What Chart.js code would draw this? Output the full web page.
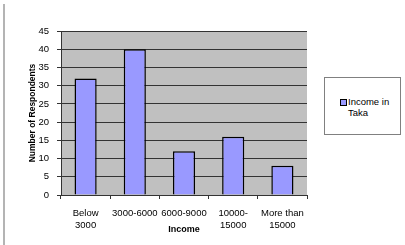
<!DOCTYPE html>
<html>
<head>
<meta charset="utf-8">
<script src="https://cdn.jsdelivr.net/npm/chart.js@4.4.0/dist/chart.umd.min.js"></script>
<style>
  html, body { margin: 0; padding: 0; background: #fff; }
  #wrap { position: relative; width: 405px; height: 245px; }
  #frame { position: absolute; left: 3px; top: 4px; width: 2px; height: 241px; background: #b4b4b4; }
  #legend {
    position: absolute; left: 324px; top: 77px; width: 75px; height: 56px;
    border: 1px solid #808080; background: #fff;
    font: 9.5px "Liberation Sans", Arial, sans-serif; color: #000;
  }
  #legend .mark {
    position: absolute; left: 15px; top: 21px; width: 5px; height: 5px;
    background: #9999ff; border: 1px solid #000;
  }
  #legend .txt { position: absolute; left: 23px; top: 18px; line-height: 11px; }
</style>
</head>
<body>
<div id="wrap">
  <canvas id="chart" width="405" height="245"></canvas>
  <div id="frame"></div>
  <div id="legend"><div class="mark"></div><div class="txt">Income in<br>Taka</div></div>
</div>
<script>
// Income groups and respondent counts
const categories = [['Below', '3000'], '3000-6000', '6000-9000', ['10000-', '15000'], ['More than', '15000']];
const respondents = [32, 40, 12, 16, 8];
const seriesName = 'Income in Taka';

// Grey plot area background
const plotBg = {
  id: 'plotBg',
  beforeDraw(chart) {
    const { ctx, chartArea: a } = chart;
    ctx.save();
    ctx.fillStyle = '#c0c0c0';
    ctx.fillRect(a.left, a.top, a.right - a.left, a.bottom - a.top);
    ctx.restore();
  }
};

const font = { family: '"Liberation Sans", Arial, sans-serif', size: 9 };

new Chart(document.getElementById('chart').getContext('2d'), {
  type: 'bar',
  data: {
    labels: categories,
    datasets: [{
      label: seriesName,
      data: respondents,
      backgroundColor: '#9999ff',
      borderColor: '#000',
      borderWidth: 1.5,
      categoryPercentage: 1,
      barPercentage: 0.45
    }]
  },
  options: {
    responsive: false,
    animation: false,
    layout: { padding: { left: 28, right: 98, top: 31, bottom: 10 } },
    plugins: { legend: { display: false }, tooltip: { enabled: false } },
    scales: {
      x: {
        grid: { offset: true, drawOnChartArea: false, tickLength: 4, color: '#333' },
        border: { color: '#333' },
        ticks: { font: { ...font, size: 9.5, lineHeight: 1.2 }, color: '#000', padding: 9, maxRotation: 0 },
        title: { display: true, text: 'Income', font: { ...font, weight: 'bold' }, color: '#000', padding: 0 },
        afterFit(s) { s.height = 40; }
      },
      y: {
        min: 0, max: 45,
        grid: { color: '#333', tickLength: 4 },
        border: { color: '#333' },
        ticks: { stepSize: 5, font: { ...font, size: 9.5 }, color: '#000', padding: 8 },
        title: { display: true, text: 'Number of Respondents', font: { ...font, size: 8.5, weight: 'bold' }, color: '#000', padding: 0 },
        afterFit(s) { s.width = 33; }
      }
    }
  },
  plugins: [plotBg]
});
</script>
</body>
</html>
